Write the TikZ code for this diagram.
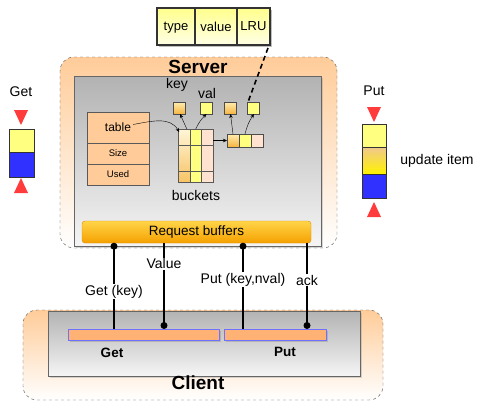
\documentclass[tikz,border=0pt]{standalone}
\usepackage{fontspec}
\setmainfont{Liberation Sans}
\usetikzlibrary{positioning,shadows,arrows.meta}

\definecolor{peach}{HTML}{FFCC99}
\definecolor{lemon}{HTML}{FFFF80}
\definecolor{paleyel}{HTML}{FFFFE6}
\definecolor{blush}{HTML}{FFE2D0}
\definecolor{amber}{HTML}{F5A000}
\definecolor{gold}{HTML}{FFD548}
\definecolor{keytop}{HTML}{FFEDB0}
\definecolor{keybot}{HTML}{F5B440}
\definecolor{signal}{HTML}{FF3B3B}
\definecolor{itemblue}{HTML}{3030FF}
\definecolor{barfill}{HTML}{FFB273}
\definecolor{barline}{HTML}{7070FF}

\tikzset{
    zone/.style={
        draw=black!70,dashed,rounded corners=14pt,
        top color=peach,bottom color=white
    },
    panel/.style={
        draw=black!60,top color=black!30,bottom color=black!4,
        drop shadow={shadow xshift=2pt,shadow yshift=-2pt,opacity=.3}
    },
    rec/.style={
        draw=black!80,line width=1.2pt,top color=lemon!90,bottom color=paleyel,
        minimum height=37pt,inner sep=0,outer sep=0,text depth=0pt,
        drop shadow={shadow xshift=1.5pt,shadow yshift=-1.5pt,opacity=.5}
    },
    tcell/.style={
        draw=black!65,fill=peach,minimum width=62pt,inner sep=0,outer sep=0
    },
    bcell/.style={
        draw=black!65,minimum width=11.7pt,minimum height=53pt,inner sep=0,outer sep=0
    },
    cell/.style={
        draw=black!70,minimum width=12pt,minimum height=12pt,inner sep=0,outer sep=0
    },
    keybox/.style={cell,top color=keytop,bottom color=keybot},
    valbox/.style={cell,fill=lemon},
    ibox/.style={draw=black!80,minimum width=25pt,inner sep=0,outer sep=0},
    rbuf/.style={
        draw=amber!90!black,rounded corners=3pt,
        top color=gold,bottom color=amber,
        minimum width=229pt,minimum height=22pt
    },
    cbar/.style={
        draw=barline,line width=1pt,fill=barfill,minimum height=11pt,inner sep=0,
        drop shadow={shadow xshift=2pt,shadow yshift=-2pt,opacity=.35}
    },
    link/.style={->,>={Stealth[length=4pt,width=3.5pt]},thin},
    wire/.style={line width=2pt},
    tag/.style={fill=white,inner sep=1pt},
    title/.style={font=\fontsize{19}{21}\selectfont\bfseries},
    tri/.style={fill=signal}
}

\begin{document}
\begin{tikzpicture}[x=1pt,y=-1pt,font=\fontsize{14}{16}\selectfont]
    \useasboundingbox (0,0) rectangle (479,402);

    % server
    \node[zone,minimum width=277pt,minimum height=191pt] (srv) at (198.5,152.5) {};
    \node[panel,minimum width=247pt,minimum height=170pt] (srvin) at (197.5,161) {};
    \node[title] (srvname) at (198,67) {Server};
    \node[rbuf,font=\fontsize{13.5}{15}\selectfont] (rb) at (196.5,232) {Request buffers};

    % table
    \node[tcell,minimum height=31pt,font=\fontsize{12}{14}\selectfont] (tbl) at (118,127.5) {table};
    \node[tcell,minimum height=21pt,below=0pt of tbl,font=\fontsize{9.5}{11}\selectfont] (size) {Size};
    \node[tcell,minimum height=21pt,below=0pt of size,font=\fontsize{9.5}{11}\selectfont] (used) {Used};

    % buckets
    \node[bcell,top color=keytop!50,bottom color=keybot!80] (b1) at (184,155.5) {};
    \node[bcell,fill=lemon,right=0pt of b1] (b2) {};
    \node[bcell,fill=blush,right=0pt of b2] (b3) {};
    \foreach \d in {16,42}
        \draw[black!65] ([yshift=-\d pt]b1.north west) -- ([yshift=-\d pt]b3.north east);
    \node (bktlbl) at (196,195) {buckets};

    % items
    \node[keybox] (k1) at (179,108) {};
    \node[valbox] (v1) at (206.5,108) {};
    \node[keybox] (k2) at (230.5,108) {};
    \node[valbox] (v2) at (253,108) {};
    \node (keylbl) at (177,85) {key};
    \node (vallbl) at (207,93) {val};

    % chain
    \node[keybox,minimum height=13pt] (c1) at (233,140.5) {};
    \node[valbox,minimum height=13pt,right=0pt of c1] (c2) {};
    \node[cell,fill=blush,minimum height=13pt,right=0pt of c2] (c3) {};

    \draw[link] ([xshift=15pt,yshift=3pt]tbl.center) to[out=10,in=120] ([xshift=1pt,yshift=-3pt]b1.north west);
    \draw[link] ([xshift=-3pt]b1.north east) -- ([xshift=1pt]k1.south);
    \draw[link] (b2.north) to[bend left=10] (v1.south);
    \draw[link] (b3.east |- c1.west) -- (c1.west);
    \draw[link] (c1.north) -- (k2.south);
    \draw[link] (c2.north) to[bend left=10] ([xshift=1pt]v2.south);

    % entry record
    \node[rec,minimum width=38pt,font=\fontsize{13}{15}\selectfont] (typ) at (176,26.5) {type};
    \node[rec,minimum width=42pt,right=0pt of typ,font=\fontsize{13}{15}\selectfont] (valf) {value};
    \node[rec,minimum width=33pt,right=0pt of valf,font=\fontsize{13}{15}\selectfont] (lru) {LRU};
    \draw[line width=1.6pt,dash pattern=on 5pt off 3.5pt] ([xshift=-2pt,yshift=-3pt]lru.south east) -- ([xshift=1pt]v2.north west);

    % get
    \node (getlbl) at (21,92) {Get};
    \fill[tri] (14,110) -- (28,110) -- (21,125) -- cycle;
    \node[ibox,fill=lemon,minimum height=23pt] (gy) at (21.5,140.5) {};
    \node[ibox,fill=itemblue,minimum height=25pt,below=0pt of gy] (gb) {};
    \fill[tri] (14,193) -- (28,193) -- (21,178) -- cycle;

    % put
    \node (putlbl) at (374,91) {Put};
    \fill[tri] (367,107) -- (381,107) -- (374,122) -- cycle;
    \node[ibox,fill=lemon,minimum height=23pt,minimum width=24pt] (py) at (374,135.5) {};
    \node[ibox,top color=keybot!70!brown!60,bottom color=yellow!90!orange,minimum height=27pt,minimum width=24pt,below=0pt of py] (pm) {};
    \node[ibox,fill=itemblue,minimum height=24pt,minimum width=24pt,below=0pt of pm] (pb) {};
    \fill[tri] (367,217) -- (381,217) -- (374,202) -- cycle;
    \node (updlbl) at (437,161) {update item};

    % client
    \node[zone,minimum width=360pt,minimum height=90pt] (cli) at (203,355) {};
    \node[panel,minimum width=312pt,minimum height=65pt] (cliin) at (204,343.5) {};
    \node[title] (cliname) at (198,383) {Client};
    \node[cbar,minimum width=151pt] (getbar) at (143.5,334.5) {};
    \node[cbar,minimum width=102pt] (putbar) at (275,334.5) {};
    \node[font=\fontsize{13.5}{15}\selectfont\bfseries] (getname) at (112,353) {Get};
    \node[font=\fontsize{13.5}{15}\selectfont\bfseries] (putname) at (285,352) {Put};

    % messages
    \draw[wire] (rb.south -| 114,0) -- node[tag,pos=.57] {Get (key)} (getbar.north -| 114,0);
    \draw[wire] (rb.south -| 164,0) -- node[tag,pos=.25] {Value} ([yshift=3pt]getbar.north -| 164,0);
    \draw[wire] (rb.south -| 243,0) -- node[tag,pos=.43] {Put (key,nval)} (putbar.north -| 243,0);
    \draw[wire] (rb.south -| 307,0) -- node[tag,pos=.45] {ack} ([yshift=3pt]putbar.north -| 307,0);
    \fill ([yshift=-3pt]rb.south -| 114,0) circle (3.5pt);
    \fill ([yshift=-3pt]rb.south -| 243,0) circle (3.5pt);
    \fill ([yshift=3pt]getbar.north -| 164,0) circle (3.5pt);
    \fill ([yshift=3pt]putbar.north -| 307,0) circle (3.5pt);
\end{tikzpicture}
\end{document}
